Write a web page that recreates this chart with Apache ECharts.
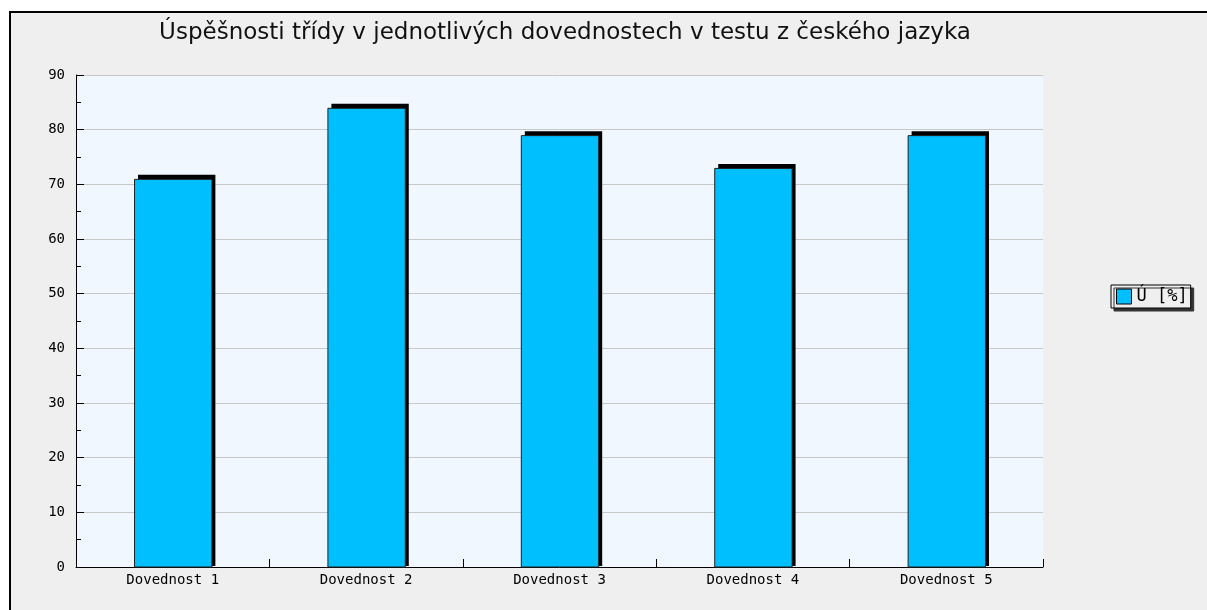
<!DOCTYPE html>
<html>
<head>
<meta charset="utf-8">
<script src="https://cdn.jsdelivr.net/npm/echarts@6/dist/echarts.min.js"></script>
<style>
  html, body { margin: 0; padding: 0; background: #fff; }
  #chart { width: 1207px; height: 610px; }
</style>
</head>
<body>
<div id="chart"></div>
<script>
const titleText = 'Úspěšnosti třídy v jednotlivých dovednostech v testu z českého jazyka';
const categories = ['Dovednost 1', 'Dovednost 2', 'Dovednost 3', 'Dovednost 4', 'Dovednost 5'];
const seriesName = 'Ú [%]';
const values = [71, 84, 79, 73, 79];

const labelFont = {
  fontFamily: 'DejaVu Sans Mono',
  fontSize: 14,
  color: '#000'
};

const chart = echarts.init(document.getElementById('chart'));

// bar with a hard black drop shadow up and to the right
const renderBar = (params, api) => {
  const base = api.coord([api.value(0), 0]);
  const top = api.coord([api.value(0), api.value(1)]);
  const w = api.size([1, 0])[0] * 0.4;
  const left = top[0] - w / 2;
  const h = base[1] - top[1];
  return {
    type: 'group',
    children: [
      {
        type: 'rect',
        shape: { x: left + 4, y: top[1] - 4, width: w, height: h + 3 },
        style: { fill: '#000' }
      },
      {
        type: 'rect',
        shape: { x: left + 0.5, y: top[1] + 0.5, width: w, height: h - 0.5 },
        style: { fill: '#00bfff', stroke: '#222', lineWidth: 1 }
      }
    ]
  };
};

const option = {
  backgroundColor: '#fff',
  animation: false,
  graphic: [
    {
      type: 'rect',
      z: -10,
      shape: { x: 10, y: 12, width: 1210, height: 610 },
      style: { fill: '#efefef', stroke: '#000', lineWidth: 2 }
    }
  ],
  title: {
    text: titleText,
    left: 560,
    top: 17,
    textAlign: 'center',
    textStyle: {
      fontFamily: 'DejaVu Sans',
      fontSize: 23,
      fontWeight: 'normal',
      color: '#111'
    }
  },
  legend: {
    left: 1111,
    top: 285,
    orient: 'vertical',
    data: [seriesName],
    icon: 'rect',
    itemWidth: 15,
    itemHeight: 15,
    itemGap: 4,
    padding: [3, 3, 3, 5],
    backgroundColor: '#efefef',
    borderColor: '#000',
    borderWidth: 1,
    shadowColor: '#333',
    shadowOffsetX: 3,
    shadowOffsetY: 3,
    shadowBlur: 0,
    itemStyle: { borderColor: '#000', borderWidth: 1 },
    textStyle: {
      fontFamily: 'DejaVu Sans Mono',
      fontSize: 17,
      color: '#000'
    }
  },
  grid: {
    left: 76,
    top: 75,
    right: 164,
    bottom: 43,
    show: true,
    backgroundColor: '#f0f7fe',
    borderWidth: 0
  },
  xAxis: {
    type: 'category',
    data: categories,
    axisLine: { lineStyle: { color: '#000', width: 1 } },
    axisTick: { show: true, inside: true, length: 8, lineStyle: { color: '#000' } },
    axisLabel: Object.assign({ margin: 6 }, labelFont),
    splitLine: { show: false }
  },
  yAxis: {
    type: 'value',
    min: 0,
    max: 90,
    interval: 10,
    axisLine: { show: true, lineStyle: { color: '#000', width: 1 } },
    axisTick: { show: true, inside: true, length: 8, lineStyle: { color: '#000' } },
    minorTick: { show: true, splitNumber: 2, length: 5, lineStyle: { color: '#000' } },
    axisLabel: Object.assign({ margin: 11 }, labelFont),
    splitLine: { show: true, lineStyle: { color: '#c8c8c8', width: 1 } }
  },
  series: [
    {
      name: seriesName,
      type: 'custom',
      renderItem: renderBar,
      encode: { x: 0, y: 1 },
      data: values.map((v, i) => [i, v]),
      itemStyle: { color: '#00bfff' }
    }
  ]
};

chart.setOption(option);
</script>
</body>
</html>
